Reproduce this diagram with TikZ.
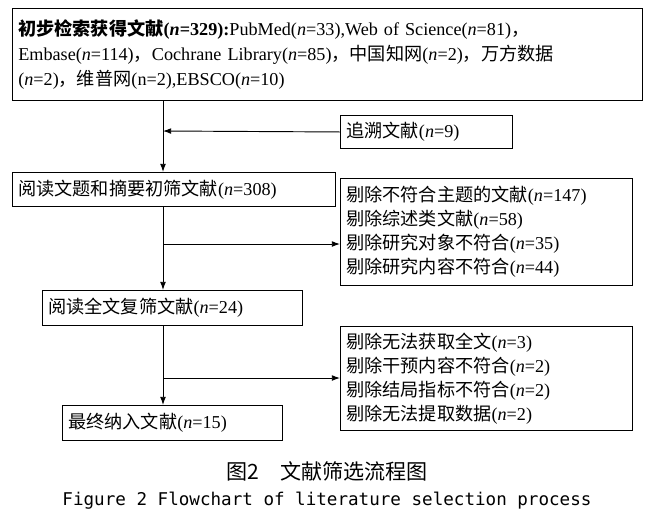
\documentclass[tikz,border=0pt]{standalone}
\usepackage{fontspec}
\setmainfont{Liberation Serif}
\newfontfamily\cjk{Noto Sans CJK SC}
\newfontfamily\monof{DejaVu Sans Mono}
\newcommand{\zh}[1]{{\cjk #1}}
\newcommand{\nn}[1]{(\textit{n}=#1)}
\usetikzlibrary{positioning,calc,arrows.meta}
\tikzset{font=\fontsize{15.5}{21}\selectfont,
  box/.style={draw, thick, align=left, inner xsep=5pt, inner ysep=3pt, anchor=north west},
  arr/.style={-{Latex[length=7pt,width=5pt]}, thick}}

\begin{document}
\begin{tikzpicture}[x=0.03cm,y=-0.03cm]
	\useasboundingbox (0,0) rectangle (654,523);
	\node[box, text width=618*0.03cm, minimum height=92*0.03cm] (search) at (12,8) {%
		\textbf{\zh{初步检索获得文献}(\textit{n}=329):}PubMed\nn{33},Web of Science\nn{81}\zh{，}\\
		Embase\nn{114}\zh{，}Cochrane Library\nn{85}\zh{，中国知网}\nn{2}\zh{，万方数据}\\
		\nn{2}\zh{，维普网}(n=2),EBSCO\nn{10}};
	\node[box, text width=160*0.03cm, minimum height=33*0.03cm] (trace) at (340,115) {\zh{追溯文献}\nn{9}};
	\node[box, text width=311*0.03cm, minimum height=34*0.03cm] (read1) at (12,172) {\zh{阅读文题和摘要初筛文献}\nn{308}};
	\node[box, text width=280*0.03cm, minimum height=107*0.03cm, font=\fontsize{15.5}{20.5}\selectfont] (excl1) at (340,178) {%
		\zh{剔除不符合主题的文献}\nn{147}\\
		\zh{剔除综述类文献}\nn{58}\\
		\zh{剔除研究对象不符合}\nn{35}\\
		\zh{剔除研究内容不符合}\nn{44}};
	\node[box, text width=248*0.03cm, minimum height=35*0.03cm] (read2) at (42,290) {\zh{阅读全文复筛文献}\nn{24}};
	\node[box, text width=280*0.03cm, minimum height=104*0.03cm, font=\fontsize{15.5}{20.5}\selectfont] (excl2) at (340,326) {%
		\zh{剔除无法获取全文}\nn{3}\\
		\zh{剔除干预内容不符合}\nn{2}\\
		\zh{剔除结局指标不符合}\nn{2}\\
		\zh{剔除无法提取数据}\nn{2}};
	\node[box, text width=208*0.03cm, minimum height=35*0.03cm] (final) at (62,405) {\zh{最终纳入文献}\nn{15}};

	\coordinate (j1) at (163,131);
	\coordinate (j2) at (163,244);
	\coordinate (j3) at (163,378);
	\draw[arr] (search.south -| j1) -- (read1.north -| j1);
	\draw[arr] (trace.west) -- (j1);
	\draw[arr] (read1.south -| j2) -- (read2.north -| j2);
	\draw[arr] (j2) -- (j2 -| excl1.west);
	\draw[arr] (read2.south -| j3) -- (final.north -| j3);
	\draw[arr] (j3) -- (j3 -| excl2.west);

	\node (cap) at (327,471) {\fontsize{18}{20}\selectfont\zh{图2\quad 文献筛选流程图}};
	\node (capen) at (327,501) {\fontsize{15}{17}\selectfont\monof Figure 2 Flowchart of literature selection process};
\end{tikzpicture}
\end{document}
